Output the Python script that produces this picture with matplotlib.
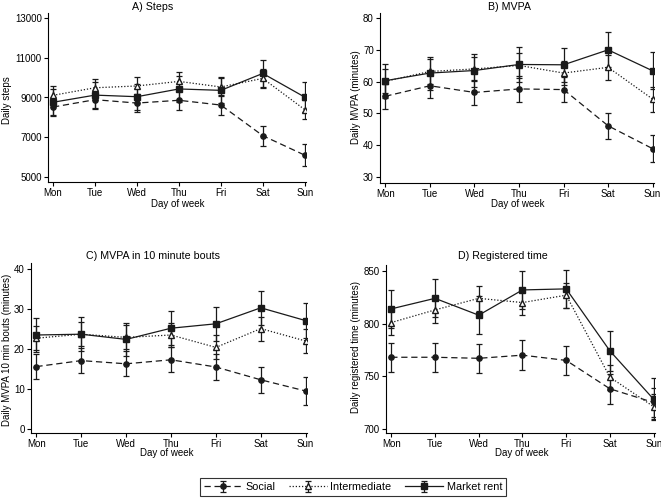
import numpy as np
import matplotlib
matplotlib.use("Agg")
import matplotlib.pyplot as plt

plt.rcParams['font.family'] = ['Liberation Sans', 'DejaVu Sans']

days = ['Mon', 'Tue', 'Wed', 'Thu', 'Fri', 'Sat', 'Sun']
x = np.arange(len(days))

# A) Steps
steps_social = [8520, 8890, 8720, 8860, 8620, 7080, 6100]
steps_social_err = [470, 460, 470, 470, 490, 500, 540]
steps_inter = [9110, 9490, 9580, 9810, 9530, 9960, 8390]
steps_inter_err = [450, 450, 450, 460, 460, 460, 470]
steps_market = [8760, 9120, 9040, 9430, 9360, 10210, 9020]
steps_market_err = [650, 650, 650, 650, 650, 680, 740]

# B) MVPA
mvpa_social = [55.4, 58.7, 56.6, 57.7, 57.5, 46.1, 38.9]
mvpa_social_err = [4.1, 4.0, 4.0, 4.0, 4.0, 4.1, 4.3]
mvpa_inter = [60.1, 63.2, 64.0, 65.1, 62.7, 64.5, 54.5]
mvpa_inter_err = [3.8, 3.8, 3.9, 3.8, 3.8, 4.0, 3.9]
mvpa_market = [60.3, 62.7, 63.5, 65.4, 65.3, 70.0, 63.4]
mvpa_market_err = [5.3, 5.2, 5.3, 5.4, 5.4, 5.5, 5.8]

# C) MVPA in 10 minute bouts
bouts_social = [15.6, 17.1, 16.3, 17.3, 15.5, 12.3, 9.5]
bouts_social_err = [3.1, 3.1, 3.1, 3.1, 3.2, 3.2, 3.4]
bouts_inter = [22.7, 23.7, 22.9, 23.5, 20.4, 25.1, 22.0]
bouts_inter_err = [3.0, 3.0, 3.0, 3.0, 3.0, 3.0, 3.0]
bouts_market = [23.5, 23.7, 22.4, 25.2, 26.3, 30.3, 27.1]
bouts_market_err = [4.2, 4.2, 4.2, 4.2, 4.2, 4.3, 4.4]

# D) Registered time
reg_social = [768, 768, 767, 770, 765, 738, 725]
reg_social_err = [14, 14, 14, 14, 14, 14, 14]
reg_inter = [801, 813, 824, 820, 827, 749, 721]
reg_inter_err = [12, 12, 12, 12, 12, 12, 12]
reg_market = [814, 824, 808, 832, 833, 774, 728]
reg_market_err = [18, 18, 18, 18, 18, 19, 20]

W, H = 661, 501
fig = plt.figure(figsize=(W / 100, H / 100), dpi=100)


def px_axes(left, top, right, bottom):
    return fig.add_axes([left / W, 1 - bottom / H, (right - left) / W, (bottom - top) / H])


panels = [
    dict(box=(48, 13, 306, 182), ylim=(4750, 13250), yticks=[5000, 7000, 9000, 11000, 13000],
         ylabel='Daily steps', title='A) Steps', title_xy=(153, 7), xlab_xy=(178, 204), ylab_xy=(7, 100),
         data=(steps_social, steps_social_err, steps_inter, steps_inter_err, steps_market, steps_market_err)),
    dict(box=(380, 13, 654, 183), ylim=(28.1, 81.6), yticks=[30, 40, 50, 60, 70, 80],
         ylabel='Daily MVPA (minutes)', title='B) MVPA', title_xy=(509, 7), xlab_xy=(518, 204), ylab_xy=(356, 97),
         data=(mvpa_social, mvpa_social_err, mvpa_inter, mvpa_inter_err, mvpa_market, mvpa_market_err)),
    dict(box=(31, 263, 307, 433), ylim=(-1, 41.5), yticks=[0, 10, 20, 30, 40],
         ylabel='Daily MVPA 10 min bouts (minutes)', title='C) MVPA in 10 minute bouts', title_xy=(153, 256),
         xlab_xy=(167, 453), ylab_xy=(7, 350),
         data=(bouts_social, bouts_social_err, bouts_inter, bouts_inter_err, bouts_market, bouts_market_err)),
    dict(box=(386, 265, 655, 433), ylim=(696, 855.7), yticks=[700, 750, 800, 850],
         ylabel='Daily registered time (minutes)', title='D) Registered time', title_xy=(503, 256),
         xlab_xy=(522, 453), ylab_xy=(356, 347),
         data=(reg_social, reg_social_err, reg_inter, reg_inter_err, reg_market, reg_market_err)),
]

col = '#1a1a1a'
fs = 7
handles = None
for p in panels:
    ax = px_axes(*p['box'])
    s, se, i, ie, m, me = p['data']
    h1 = ax.errorbar(x, s, yerr=se, color=col, ls=(0, (5, 3)), lw=0.9, marker='o', ms=3.8,
                     capsize=2.3, elinewidth=0.9, capthick=0.9, label='Social')
    h2 = ax.errorbar(x, i, yerr=ie, color=col, ls=(0, (1, 1.5)), lw=0.9, marker='^', ms=4.8,
                     mfc='white', mec=col, capsize=2.3, elinewidth=0.9, capthick=0.9, label='Intermediate')
    h3 = ax.errorbar(x, m, yerr=me, color=col, ls='-', lw=0.9, marker='s', ms=4.2,
                     capsize=2.3, elinewidth=0.9, capthick=0.9, label='Market rent')
    handles = [h1, h2, h3]
    ax.set_xlim(-0.12, 6.03)
    ax.set_ylim(*p['ylim'])
    ax.set_xticks(x)
    ax.set_xticklabels(days, fontsize=fs)
    ax.set_yticks(p['yticks'])
    ax.set_yticklabels([str(v) for v in p['yticks']], fontsize=fs)
    ax.tick_params(direction='out', length=3, width=0.8, pad=1.5, colors='black')
    for side in ('top', 'right'):
        ax.spines[side].set_visible(False)
    for side in ('left', 'bottom'):
        ax.spines[side].set_linewidth(0.8)
    tx, ty = p['title_xy']
    fig.text(tx / W, 1 - ty / H, p['title'], ha='center', va='center', fontsize=7.7)
    lx, ly = p['xlab_xy']
    fig.text(lx / W, 1 - ly / H, 'Day of week', ha='center', va='center', fontsize=fs)
    yx, yy = p['ylab_xy']
    fig.text(yx / W, 1 - yy / H, p['ylabel'], ha='center', va='center', rotation=90, fontsize=fs)

leg = fig.legend(handles, ['Social', 'Intermediate', 'Market rent'], loc='center',
                 bbox_to_anchor=(353 / W, 1 - 487 / H), ncol=3, fontsize=7.8, frameon=True,
                 fancybox=False, edgecolor='black', handlelength=3.5, columnspacing=1.3,
                 handletextpad=0.3, borderpad=0.35)
leg.get_frame().set_linewidth(0.8)

fig.savefig('out.png', dpi=100)
